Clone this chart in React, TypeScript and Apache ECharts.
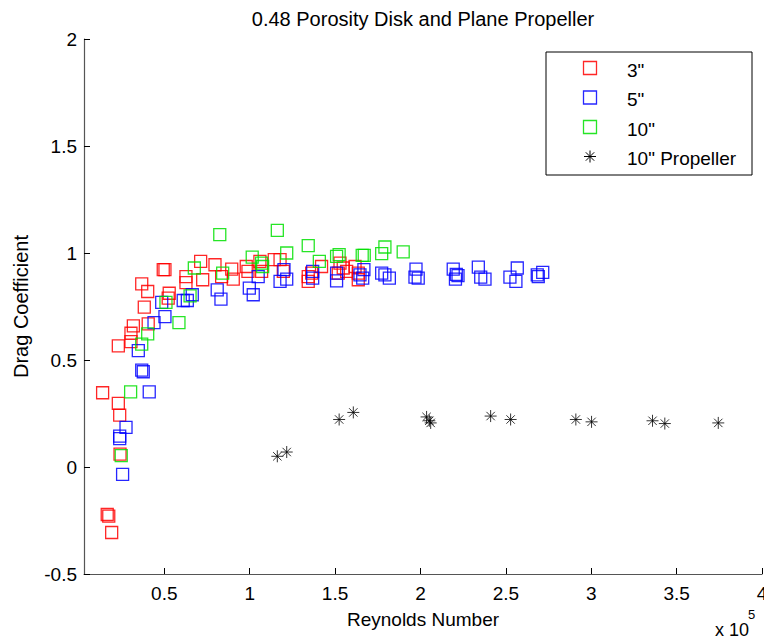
import { useEffect, useRef } from 'react';
import * as echarts from 'echarts';

// Reynolds number in units of 1e5 (axis multiplier shown as "x 10^5")
const xTicks = [0.5, 1, 1.5, 2, 2.5, 3, 3.5, 4];

// 3" disk
const disk3Re = [
  0.139, 0.231, 0.239, 0.241, 0.166, 0.175, 0.192, 0.231, 0.305, 0.305, 0.319, 0.406,
  0.383, 0.368, 0.403, 0.494, 0.504, 0.529, 0.523, 0.627, 0.627, 0.713, 0.725, 0.797,
  0.836, 0.895, 0.904, 0.98, 0.99, 1.06, 1.07, 1.144, 1.178, 1.197, 1.343, 1.343,
  1.363, 1.421, 1.519, 1.529, 1.548, 1.568, 1.617, 1.636, 1.636,
];
const disk3Cd = [
  0.347, 0.297, 0.242, 0.06, -0.222, -0.23, -0.306, 0.566, 0.625, 0.586, 0.659, 0.669,
  0.747, 0.856, 0.82, 0.922, 0.922, 0.812, 0.789, 0.89, 0.862, 0.961, 0.875, 0.945,
  0.89, 0.925, 0.878, 0.937, 0.914, 0.961, 0.914, 0.969, 0.969, 0.914, 0.89, 0.867,
  0.906, 0.937, 0.906, 0.953, 0.93, 0.914, 0.937, 0.906, 0.875,
];

// 5" disk
const disk5Re = [
  0.412, 0.276, 0.239, 0.239, 0.256, 0.368, 0.377, 0.348, 0.44, 0.504, 0.485, 0.611,
  0.635, 0.664, 0.81, 0.832, 0.998, 1.021, 1.05, 1.178, 1.201, 1.217, 1.369, 1.369,
  1.509, 1.509, 1.646, 1.662, 1.669, 1.773, 1.792, 1.818, 1.974, 1.968, 1.987, 2.192,
  2.21, 2.205, 2.22, 2.339, 2.353, 2.378, 2.524, 2.567, 2.559, 2.684, 2.716, 2.69,
];
const disk5Cd = [
  0.351, 0.185, 0.144, 0.133, -0.034, 0.453, 0.445, 0.544, 0.675, 0.703, 0.769, 0.778,
  0.778, 0.805, 0.828, 0.784, 0.836, 0.805, 0.89, 0.867, 0.922, 0.878, 0.914, 0.883,
  0.906, 0.87, 0.898, 0.883, 0.922, 0.906, 0.898, 0.883, 0.925, 0.887, 0.883, 0.925,
  0.9, 0.878, 0.894, 0.934, 0.887, 0.878, 0.887, 0.93, 0.867, 0.898, 0.909, 0.89,
];

// 10" disk
const disk10Re = [
  0.303, 0.248, 0.368, 0.403, 0.586, 0.51, 0.651, 0.676, 0.842, 0.825, 1.015, 1.07,
  1.076, 1.162, 1.217, 1.343, 1.408, 1.509, 1.524, 1.659, 1.671, 1.773, 1.792, 1.899,
];
const disk10Cd = [
  0.351, 0.053, 0.574, 0.622, 0.675, 0.769, 0.8, 0.93, 0.906, 1.086, 0.981, 0.953,
  0.937, 1.106, 1.0, 1.034, 0.961, 0.984, 0.992, 0.989, 0.989, 0.997, 1.028, 1.005,
];

// 10" plane propeller
const propRe = [
  1.162, 1.217, 1.524, 1.607, 2.036, 2.052, 2.06, 2.411, 2.528, 2.91, 3.002, 3.359,
  3.431, 3.744,
];
const propCd = [
  0.05, 0.07, 0.222, 0.255, 0.234, 0.216, 0.206, 0.238, 0.222, 0.222, 0.211, 0.216,
  0.203, 0.206,
];

const legendNames = ['3"', '5"', '10"', '10" Propeller'];
const seriesColors = ['#ff0000', '#0000ff', '#00e000', '#000000'];

const FONT = '"Liberation Sans", Arial, Helvetica, sans-serif';
const ASTERISK = 'path://M0,6H12M6,0V12M1.8,1.8L10.2,10.2M1.8,10.2L10.2,1.8';

const zip = (xs: number[], ys: number[]) => xs.map((x, i) => [x, ys[i]]);

const squareSeries = (name: string, color: string, xs: number[], ys: number[]) => ({
  name,
  type: 'scatter',
  data: zip(xs, ys),
  symbol: 'rect',
  symbolSize: 12,
  silent: true,
  itemStyle: { color: 'rgba(0,0,0,0)', borderColor: color, borderWidth: 1.3, opacity: 0.85 },
});

export default function App() {
  const ref = useRef<HTMLDivElement>(null);

  useEffect(() => {
    if (!ref.current) return;
    const chart = echarts.init(ref.current, undefined, { renderer: 'svg' });

    const legendRowY = [68, 97.5, 127, 156.5];
    const legendItems: any[] = [
      {
        type: 'rect',
        shape: { x: 546, y: 52, width: 206, height: 123 },
        style: { fill: '#fff', stroke: '#000', lineWidth: 1 },
        z: 100,
      },
    ];
    legendNames.forEach((name, i) => {
      const cy = legendRowY[i];
      if (i < 3) {
        legendItems.push({
          type: 'rect',
          shape: { x: 583.5, y: cy - 6.5, width: 13, height: 13 },
          style: { fill: 'none', stroke: seriesColors[i], lineWidth: 1.3, opacity: 0.85 },
          z: 101,
        });
      } else {
        const r = 6;
        const d = 4.2;
        [
          [590 - r, cy, 590 + r, cy],
          [590, cy - r, 590, cy + r],
          [590 - d, cy - d, 590 + d, cy + d],
          [590 - d, cy + d, 590 + d, cy - d],
        ].forEach(([x1, y1, x2, y2]) =>
          legendItems.push({
            type: 'line',
            shape: { x1, y1, x2, y2 },
            style: { stroke: '#000', lineWidth: 1 },
            z: 101,
          }),
        );
      }
      legendItems.push({
        type: 'text',
        x: 627,
        y: cy + 2,
        style: {
          text: name,
          fill: '#000',
          font: `19px ${FONT}`,
          textAlign: 'left',
          textVerticalAlign: 'middle',
        },
        z: 101,
      });
    });

    chart.setOption({
      animation: false,
      backgroundColor: '#fff',
      grid: {
        left: 84,
        right: 2,
        top: 39,
        bottom: 66,
        containLabel: false,
        outerBoundsMode: 'none',
      },
      xAxis: {
        type: 'value',
        min: 0.03,
        max: 4,
        name: 'Reynolds Number',
        nameLocation: 'middle',
        nameGap: 36,
        nameTextStyle: { fontFamily: FONT, fontSize: 19, color: '#000' },
        axisLine: { show: true, onZero: false, lineStyle: { color: '#555', width: 1.2 } },
        axisTick: { show: true, inside: true, length: 6, customValues: xTicks, lineStyle: { color: '#000' } },
        axisLabel: { customValues: xTicks, fontFamily: FONT, fontSize: 19, color: '#000', margin: 10 },
        splitLine: { show: false },
      },
      yAxis: {
        type: 'value',
        min: -0.5,
        max: 2,
        interval: 0.5,
        name: 'Drag Coefficient',
        nameLocation: 'middle',
        nameGap: 53,
        nameRotate: 90,
        nameTextStyle: { fontFamily: FONT, fontSize: 20, color: '#000' },
        axisLine: { show: true, onZero: false, lineStyle: { color: '#555', width: 1.2 } },
        axisTick: { show: true, inside: true, length: 6, lineStyle: { color: '#000' } },
        axisLabel: { fontFamily: FONT, fontSize: 19, color: '#000', margin: 7 },
        splitLine: { show: false },
      },
      series: [
        squareSeries(legendNames[0], seriesColors[0], disk3Re, disk3Cd),
        squareSeries(legendNames[1], seriesColors[1], disk5Re, disk5Cd),
        squareSeries(legendNames[2], seriesColors[2], disk10Re, disk10Cd),
        {
          name: legendNames[3],
          type: 'scatter',
          data: zip(propRe, propCd),
          symbol: ASTERISK,
          symbolSize: 12,
          silent: true,
          itemStyle: { color: 'rgba(0,0,0,0)', borderColor: '#000', borderWidth: 1 },
        },
      ],
      graphic: [
        {
          type: 'text',
          x: 423,
          y: 18.5,
          style: {
            text: '0.48 Porosity Disk and Plane Propeller',
            fill: '#000',
            font: `20px ${FONT}`,
            textAlign: 'center',
            textVerticalAlign: 'middle',
          },
        },
        {
          type: 'text',
          x: 715,
          y: 630,
          style: { text: 'x 10', fill: '#000', font: `18px ${FONT}`, textAlign: 'left', textVerticalAlign: 'middle' },
        },
        {
          type: 'text',
          x: 748,
          y: 614,
          style: { text: '5', fill: '#000', font: `13px ${FONT}`, textAlign: 'left', textVerticalAlign: 'middle' },
        },
        ...legendItems,
      ],
    });

    return () => chart.dispose();
  }, []);

  return <div ref={ref} style={{ position: 'fixed', left: 0, top: 0, width: 764, height: 640 }} />;
}
